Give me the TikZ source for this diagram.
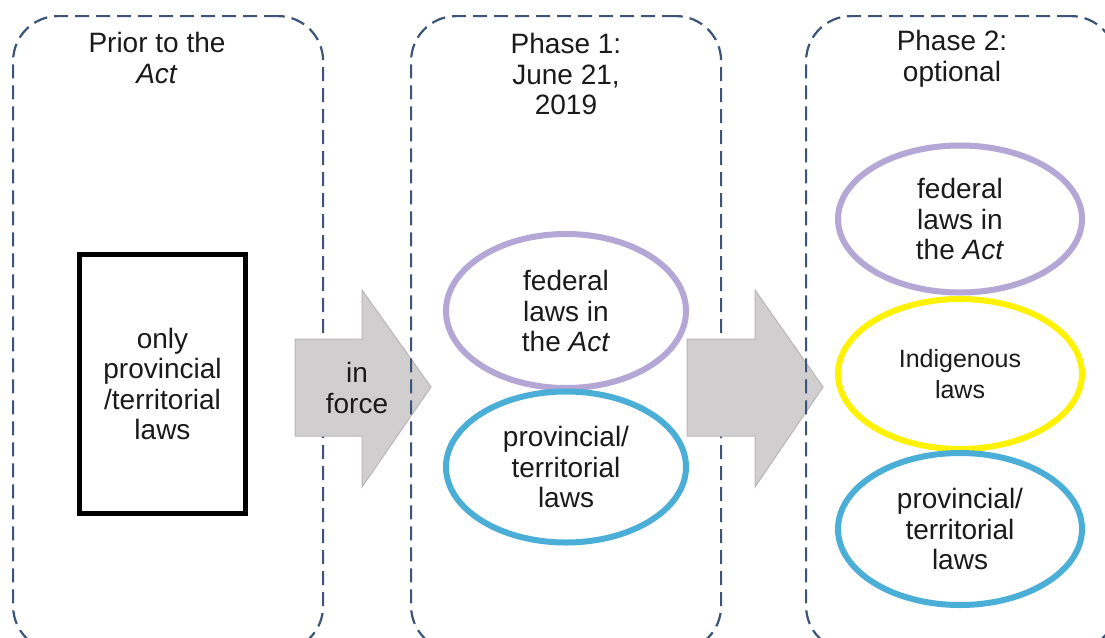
\documentclass[tikz,border=0pt]{standalone}
\usepackage{fontspec}
\setmainfont{Liberation Sans}
\usetikzlibrary{shapes.geometric}
\definecolor{boxblue}{HTML}{3D5479}
\definecolor{lavender}{HTML}{B4A7D6}
\definecolor{lawblue}{HTML}{4AAED6}
\definecolor{arrowgray}{HTML}{D0CECE}
\definecolor{arrowedge}{HTML}{B8B6B6}
\definecolor{inkgray}{HTML}{1A1A1A}
\begin{document}
\begin{tikzpicture}[x=1pt,y=-1pt,
  phasebox/.style={draw=boxblue, line width=2.2pt, dash pattern=on 14pt off 7pt,
    rounded corners=45pt, minimum width=310pt, minimum height=635pt, anchor=north west},
  txt/.style={align=center, font=\fontsize{28}{30.5}\selectfont, inner sep=0pt, text=inkgray},
  lawring/.style={ellipse, line width=6pt, align=center, inner sep=0pt, text=inkgray,
    font=\fontsize{28}{30.5}\selectfont},
  bigarrow/.style={fill=arrowgray, draw=arrowedge, line width=1pt}]
\clip (0,0) rectangle (1105,637);
\path[use as bounding box] (0,0) rectangle (1105,637);
\fill[white] (0,0) rectangle (1105,637);
% box 1
\node[phasebox] (box1) at (12,15) {};
\node[txt] (t1) at (157,58) {Prior to the\\\textit{Act}};
\node[draw, line width=5pt, minimum width=166pt, minimum height=259pt, txt] (only) at (162.5,384) {only\\provincial\\/territorial\\laws};
% arrow 1
\draw[bigarrow] (295,339) coordinate (a1s) -- (362,339) -- (362,290) -- (431,387) coordinate (a1t) -- (362,487) -- (362,436) -- (295,436) -- cycle;
\node[txt] (force) at (357,388) {in\\force};
% box 2
\node[phasebox] (box2) at (410,15) {};
\node[txt] (t2) at (566,74) {Phase 1:\\June 21,\\2019};
\node[lawring, draw=lavender, minimum width=240pt, minimum height=154pt] (fed1) at (566,311) {federal\\laws in\\the \textit{Act}};
\node[lawring, draw=lawblue, minimum width=240pt, minimum height=151pt] (prov1) at (566,467) {provincial/\\territorial\\laws};
% arrow 2
\draw[bigarrow] (687,339) coordinate (a2s) -- (755,339) -- (755,290) -- (823,387) coordinate (a2t) -- (755,487) -- (755,436) -- (687,436) -- cycle;
% box 3
\node[phasebox] (box3) at (805,15) {};
\node[txt] (t3) at (952,59) {Phase 2:\\optional};
\node[lawring, draw=lavender, minimum width=244pt, minimum height=147pt] (fed2) at (960,219) {federal\\laws in\\the \textit{Act}};
\node[lawring, draw=yellow, minimum width=244pt, minimum height=150pt, font=\fontsize{25}{30.5}\selectfont] (ind) at (960,374) {Indigenous\\laws};
\node[lawring, draw=lawblue, minimum width=244pt, minimum height=152pt] (prov2) at (960,529) {provincial/\\territorial\\laws};
\end{tikzpicture}
\end{document}
